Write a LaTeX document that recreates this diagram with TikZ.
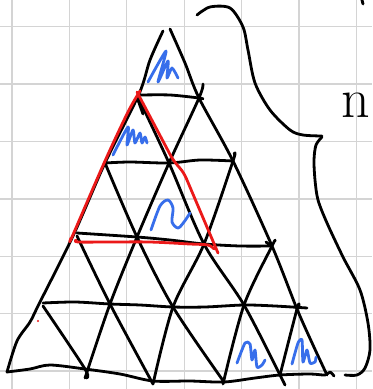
\documentclass[tikz,border=0pt]{standalone}
\definecolor{gridgray}{RGB}{212,212,212}
\definecolor{penred}{RGB}{235,25,25}
\definecolor{penblue}{RGB}{55,110,235}
\tikzset{
  gridline/.style={draw=gridgray, line width=1pt},
  ink/.style={draw=black, line width=2.1pt, line cap=round, line join=round},
  redink/.style={draw=penred, line width=2.1pt, line cap=round, line join=round},
  blueink/.style={draw=penblue, line width=2.1pt, line cap=round, line join=round},
  sm/.style={smooth, tension=0.5}
}
\begin{document}
\begin{tikzpicture}[x=0.75pt,y=-0.75pt]
\useasboundingbox (0,0) rectangle (372,389);
\fill[white] (0,0) rectangle (372,389);
% graph paper
\foreach \k in {0,...,6} {
  \draw[gridline] ({12+57.4*\k},0) -- ({12+57.4*\k},389);
  \draw[gridline] (0,{26.7+57.4*\k}) -- (372,{26.7+57.4*\k});
}
% vertices
\coordinate (apL) at (163,31);
\coordinate (apR) at (170,29);
\coordinate (v10) at (139,94);
\coordinate (v11) at (199,98);
\coordinate (v20) at (105,163);
\coordinate (v21) at (169,163);
\coordinate (v22) at (233,161);
\coordinate (v30) at (73,236);
\coordinate (v31) at (137,237);
\coordinate (v32) at (204,244);
\coordinate (v33) at (272,246);
\coordinate (v40) at (39,304);
\coordinate (v41) at (110,304);
\coordinate (v42) at (173,307);
\coordinate (v43) at (244,305);
\coordinate (v44) at (297,309);
\coordinate (v50) at (7,372);
\coordinate (v51) at (85,369);
\coordinate (v52) at (153,381);
\coordinate (v53) at (224,382);
\coordinate (v54) at (280,375);
\coordinate (v55) at (327,375);
% outer sides
\draw[ink] plot[sm] coordinates {(apL) (150,60) (v10) (v20) (v30) (v40) (30,322) (17,341) (v50)};
\draw[ink] plot[sm] coordinates {(apR) (185,63) (v11) (v22) (v33) (v44) (313,345) (v55)};
% horizontal rows
\draw[ink] plot[sm] coordinates {(141,95) (170,95) (v11) (203,99)};
\draw[ink] plot[sm] coordinates {(v20) (130,162) (v21) (200,160) (v22)};
\draw[ink] plot[sm] coordinates {(77,233) (v31) (170,240) (v32) (240,246) (v33)};
\draw[ink] (266,242) -- (271,246);
\draw[ink] plot[sm] coordinates {(43,303) (75,302) (v41) (140,305) (v42) (205,307) (v43) (275,306) (307,308)};
\draw[ink] plot[sm] coordinates {(v50) (30,369) (50,365) (v51) (120,374) (v52) (190,381) (v53) (255,378) (v54) (310,374) (325,375) (330,372) (334,376)};
% diagonals going down-right
\draw[ink] plot[sm] coordinates {(138,97) (v21) (v32) (v43) (v54) (285,385)};
\draw[ink] (138,100) -- (143,114);
\draw[ink] plot[sm] coordinates {(v20) (v31) (v42) (v53)};
\draw[ink] plot[sm] coordinates {(77,236) (v41) (153,384)};
\draw[ink] plot[sm] coordinates {(43,306) (v51) (86,378)};
% diagonals going down-left
\draw[ink] plot[sm] coordinates {(203,84) (v11) (v21) (v31) (v41) (85,378)};
\draw[ink] plot[sm] coordinates {(234,154) (v22) (v32) (v42) (153,384)};
\draw[ink] plot[sm] coordinates {(275,241) (v33) (v43) (223,384)};
\draw[ink] plot[sm] coordinates {(299,306) (v44) (v54)};
% red triangle
\draw[redink] plot[sm] coordinates {(140,91) (128,112) (105,161) (72,237) (71,238)};
\draw[redink, rounded corners=4] (137,92) -- (173,160) -- (184,173) -- (218,253);
\draw[redink] plot[sm] coordinates {(76,240) (78,242) (110,242) (150,242) (190,244) (208,245) (214,249)};
% blue scribbles
\draw[blueink] plot[smooth, tension=0.4] coordinates {(148,82) (166,51) (158,82) (168,61) (167,78) (172,68) (178,78)};
\draw[blueink] plot[smooth, tension=0.4] coordinates {(113,155) (128,127) (127,145) (133,130) (135,143) (140,133) (142,143) (145,137) (147,143)};
\draw[blueink] plot[smooth, tension=0.5] coordinates {(151,230) (160,206) (168,200) (173,208) (172,222) (178,228) (184,222) (190,213)};
\draw[blueink] plot[smooth, tension=0.4] coordinates {(237,363) (245,343) (250,344) (252,360) (255,350) (257,367) (262,365) (265,360)};
\draw[blueink] plot[smooth, tension=0.4] coordinates {(292,364) (298,343) (302,340) (303,362) (307,350) (310,363) (315,362) (316,357)};
% brace
\draw[ink] plot[sm] coordinates {(197,15) (210,7) (230,8) (243,27) (248,50) (255,83) (270,110) (290,130) (303,135) (322,136)};
\draw[ink] plot[sm] coordinates {(322,137) (316,145) (314,160) (315,180) (318,200) (327,223) (343,257) (360,290) (368,323) (370,350) (365,368) (357,375) (345,375)};
\draw[ink] (362,0) -- (363,4);
% label
\node[inner sep=0pt, font=\fontsize{42}{42}\selectfont] (nlabel) at (356,105) {n};
% red dot
\fill[penred] (38,321) circle (1.1);
\end{tikzpicture}
\end{document}
